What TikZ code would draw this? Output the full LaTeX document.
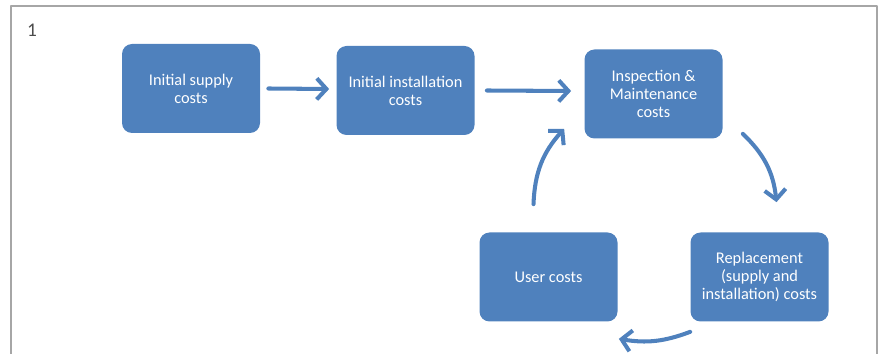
\documentclass[tikz,border=0pt]{standalone}
\usepackage{fontspec}
\setmainfont{Carlito}
\usetikzlibrary{arrows.meta}
\definecolor{boxblue}{HTML}{4F81BD}
\definecolor{framegray}{HTML}{A6A6A6}
\begin{document}
\begin{tikzpicture}[line join = round, line cap = round,font=\fontsize{9.3}{10.3}\selectfont,
  cost/.style={draw=none,fill=boxblue,rounded corners=0.2cm,minimum width=2.76cm,minimum height=1.78cm,
    text=white,align=center,inner sep=1pt},
  flow/.style={boxblue,line width=2.3pt,-{Straight Barb[length=5.5pt,width=12pt]}}]
			\def \xmax{17.64};
			\def \ymin{-7.08};
			\clip (0,0) rectangle (\xmax,\ymin);
			\draw[framegray,line width=0.6pt] (0.22,\ymin-1) -- (0.22,-0.12) -- (17.54,-0.12) -- (17.54,\ymin-1);
			\node[text=black!70,anchor=west,font=\fontsize{11}{13}\selectfont] (num) at (0.42,-0.6) {1};
			\node[cost] (supply) at (3.82,-1.77) {Initial supply\\costs};
			\node[cost] (install) at (8.11,-1.81) {Initial installation\\costs};
			\node[cost] (inspect) at (13.07,-1.88) {Inspection \&\\Maintenance\\costs};
			\node[cost] (user) at (10.97,-5.54) {User costs};
			\node[cost] (replace) at (15.19,-5.54) {Replacement\\(supply and\\installation) costs};
			\draw[flow] ([xshift=0.16cm]supply.east) -- ([xshift=-0.14cm,yshift=0.03cm]install.west);
			\draw[flow] ([xshift=0.24cm]install.east) -- ([xshift=-0.26cm,yshift=0.06cm]inspect.west);
			\draw[flow] ([shift={(0.4,0.1)}]inspect.south east) to[bend left=20] ([shift={(0.34,0.6)}]replace.north);
			\draw[flow] ([shift={(0,-0.2)}]replace.south west) to[bend left=15] ([shift={(0.02,-0.34)}]user.south east);
			\draw[flow] ([shift={(-0.3,0.56)}]user.north) to[bend left=20] ([shift={(-0.4,0.2)}]inspect.south west);
			\end{tikzpicture}
\end{document}
